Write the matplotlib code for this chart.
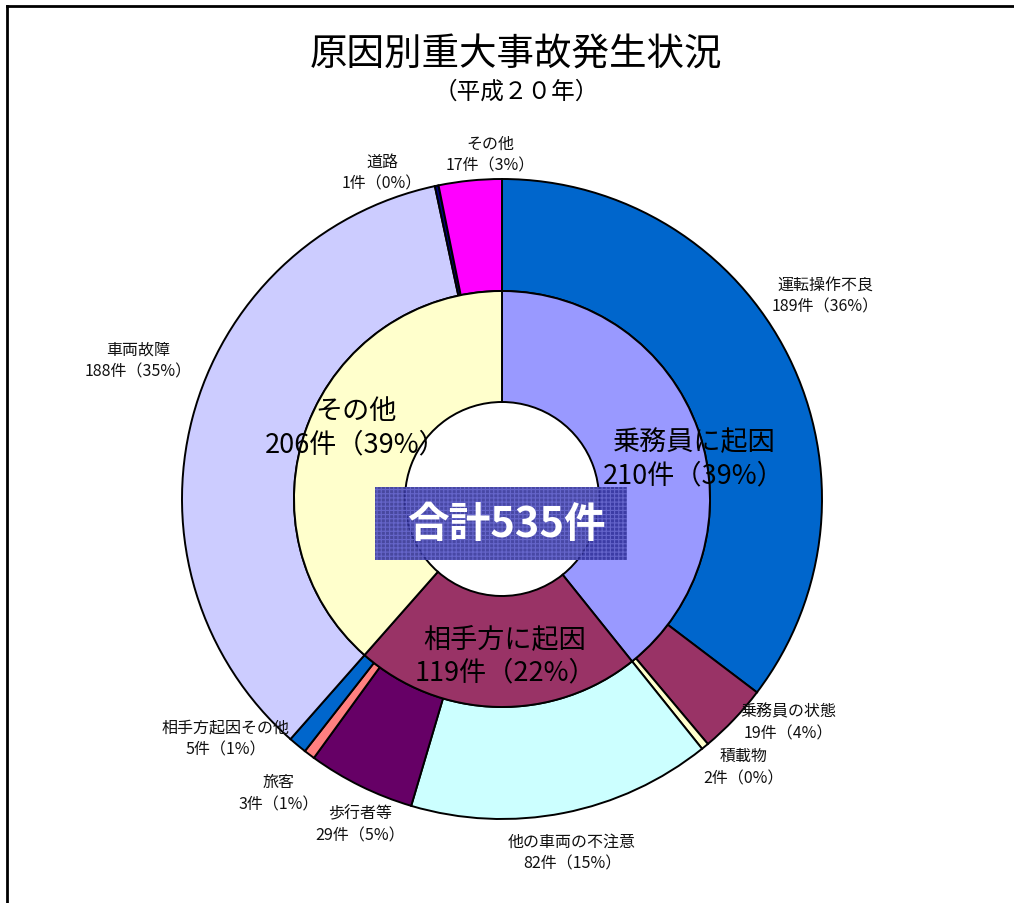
import matplotlib
matplotlib.use("Agg")
import matplotlib.pyplot as plt
from matplotlib.patches import Rectangle

plt.rcParams['font.family'] = ['Noto Sans CJK JP', 'DejaVu Sans']
plt.rcParams['hatch.linewidth'] = 0.8

# ---------------- data ----------------
title = "原因別重大事故発生状況"
subtitle = "（平成２０年）"
total_label = "合計535件"

outer_labels = ["運転操作不良", "乗務員の状態", "積載物", "他の車両の不注意", "歩行者等",
                "旅客", "相手方起因その他", "車両故障", "道路", "その他"]
outer_values = [189, 19, 2, 82, 29, 3, 5, 188, 1, 17]
outer_pcts = [36, 4, 0, 15, 5, 1, 1, 35, 0, 3]
outer_colors = ["#0066CC", "#993366", "#FFFFCC", "#CCFFFF", "#660066",
                "#FF8080", "#0066CC", "#CCCCFF", "#000080", "#FF00FF"]

inner_labels = ["乗務員に起因", "相手方に起因", "その他"]
inner_values = [210, 119, 206]
inner_pcts = [39, 22, 39]
inner_colors = ["#9999FF", "#993366", "#FFFFCC"]

# ---------------- layout (pixel coordinates, y from top) ----------------
W, H = 1014, 904
CX, CY = 502, 500
R_OUT, R_MID, R_IN = 320, 208, 97

outer_label_pos = [(825, 296), (788, 723), (744, 768), (572, 853), (360, 825),
                   (279, 794), (226, 739), (138, 361), (382, 173), (490, 155)]
inner_label_pos = [(694, 459), (505, 656), (356, 428)]


def Y(y):
    return H - y


fig = plt.figure(figsize=(W / 100, H / 100), dpi=100)
ax = fig.add_axes([0, 0, 1, 1])

ax.pie(outer_values, colors=outer_colors, radius=R_OUT, center=(CX, Y(CY)),
       startangle=90, counterclock=False,
       wedgeprops=dict(width=R_OUT - R_MID, edgecolor='black', linewidth=1.4))
ax.pie(inner_values, colors=inner_colors, radius=R_MID, center=(CX, Y(CY)),
       startangle=90, counterclock=False,
       wedgeprops=dict(width=R_MID - R_IN, edgecolor='black', linewidth=1.4))

ax.set_xlim(0, W)
ax.set_ylim(0, H)
ax.set_aspect('equal')
ax.axis('off')

# frame lines
ax.plot([7, 7], [Y(904), Y(7)], color='black', lw=2, solid_capstyle='projecting')
ax.plot([7, 1014], [Y(7), Y(7)], color='black', lw=2, solid_capstyle='projecting')

# titles
ax.text(516, Y(55), title, ha='center', va='center', fontsize=27)
ax.text(516, Y(92), subtitle, ha='center', va='center', fontsize=17)

# outer labels
for lab, v, p, (x, y) in zip(outer_labels, outer_values, outer_pcts, outer_label_pos):
    ax.text(x, Y(y), f"{lab}\n{v}件（{p}%）", ha='center', va='center',
            fontsize=11.5, linespacing=1.4, color='#111111')

# inner labels
for lab, v, p, (x, y) in zip(inner_labels, inner_values, inner_pcts, inner_label_pos):
    ax.text(x, Y(y), f"{lab}\n{v}件（{p}%）", ha='center', va='center',
            fontsize=19.5, linespacing=1.3, color='black')

# total box
ax.add_patch(Rectangle((375, Y(561)), 252, 73, facecolor='#2f2f99', edgecolor='#6a6ad0',
                       hatch='++++', linewidth=0, alpha=0.88, zorder=5))
ax.text(506, Y(525), total_label, ha='center', va='center', fontsize=30,
        fontweight='bold', color='white', zorder=6)

fig.savefig("out.png", dpi=100)
